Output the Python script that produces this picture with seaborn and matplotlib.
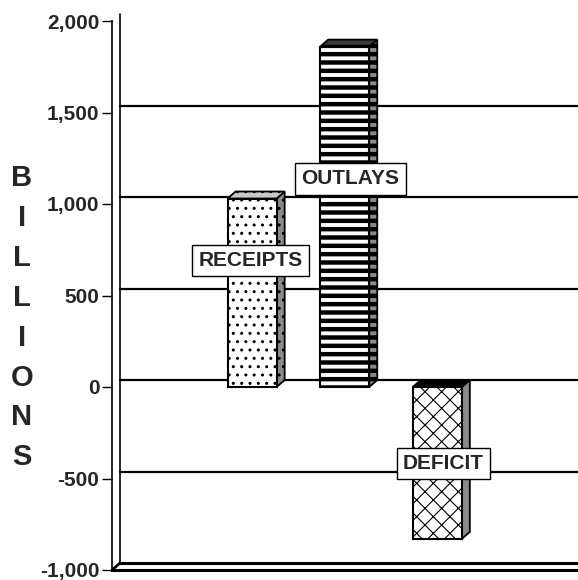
import matplotlib
matplotlib.use("Agg")
import matplotlib.pyplot as plt
import matplotlib.transforms as mtransforms
from matplotlib.patches import Polygon
from matplotlib.ticker import FuncFormatter
import seaborn as sns

# ---- data ----
categories = ["RECEIPTS", "OUTLAYS", "DEFICIT"]
values = [1030, 1860, -830]
label_values = [691, 1137, -418]          # vertical placement of the label boxes
label_shift = [-0.02, 0.06, 0.065]        # horizontal nudge of the label boxes
yticks = [-1000, -500, 0, 500, 1000, 1500, 2000]
ylabel_text = "BILLIONS"

# ---- style ----
sns.set_style("white")
plt.rcParams['font.family'] = ['Liberation Sans', 'DejaVu Sans']
plt.rcParams['font.weight'] = 'bold'

DPI = 100
W, H = 578, 580
fig = plt.figure(figsize=(W / DPI, H / DPI), dpi=DPI)
left_px, top_px, bottom_px = 112, 21, 570
ax = fig.add_axes([left_px / W, (H - bottom_px) / H, 1 - left_px / W,
                   (bottom_px - top_px) / H])

sns.barplot(x=categories, y=values, order=categories, width=0.53,
            color="white", edgecolor="black", linewidth=1.5, ax=ax,
            zorder=3)

ax.set_xlim(-1.514, 3.52)
ax.set_ylim(-1000, 2000)
ax.set_yticks(yticks)
ax.yaxis.set_major_formatter(FuncFormatter(lambda v, p: f"{int(v):,}"))
ax.tick_params(axis='y', which='both', left=True, length=7, width=1,
               pad=2, labelsize=15, color='black')
for lab in ax.get_yticklabels():
    lab.set_fontweight('bold')
ax.set_xticks([])
ax.set_xlabel("")
ax.set_ylabel("")
for s in ['top', 'right']:
    ax.spines[s].set_visible(False)
ax.spines['left'].set_linewidth(1.2)
ax.spines['left'].set_color('black')
ax.spines['bottom'].set_linewidth(2.2)
ax.spines['bottom'].set_color('black')
ax.patch.set_alpha(0)

# depth offsets (pixels)
dx, dy = 8, 7
back = ax.get_yaxis_transform() + mtransforms.ScaledTranslation(dx / DPI, dy / DPI, fig.dpi_scale_trans)

# back wall gridlines (no line along the top edge)
for v in yticks[1:-1]:
    ax.plot([0, 1.05], [v, v], transform=back, color='black', lw=1.6,
            clip_on=False, zorder=1)
# floor back line
ax.plot([0, 1.05], [-1000, -1000], transform=back, color='black', lw=2.2,
        clip_on=False, zorder=1)
# back wall vertical line
ax.plot([0, 0], [-1000, 2000], transform=back, color='black', lw=1.2,
        clip_on=False, zorder=1)

ident = mtransforms.IdentityTransform()
for v in (-1000, 2000):
    p = ax.get_yaxis_transform().transform((0, v))
    ax.add_artist(plt.Line2D([p[0], p[0] + dx], [p[1], p[1] + dy], transform=ident,
                             color='black', lw=1.4 if v > 0 else 2.0, zorder=2))

# bar styling
face_hatch = ['..', '--', 'xx']
top_colors = ['#c8c8c8', '#3a3a3a', '#000000']
side_colors = ['#8a8a8a', '#8a8a8a', '#8a8a8a']
side_hatch = ['..', '--', None]

def set_hlw(artist, lw):
    if hasattr(artist, 'set_hatch_linewidth'):
        artist.set_hatch_linewidth(lw)

bars = list(ax.patches)
for i, bar in enumerate(bars):
    x0 = bar.get_x()
    w = bar.get_width()
    y0 = bar.get_y()
    h = bar.get_height()
    ylo, yhi = min(y0, y0 + h), max(y0, y0 + h)
    bar.set_facecolor('white')
    bar.set_hatch(face_hatch[i])
    set_hlw(bar, [1.0, 3.2, 0.8][i])
    bar.set_edgecolor('black')
    bar.set_linewidth(1.5)
    bar.set_zorder(3)

    (px0, pylo) = ax.transData.transform((x0, ylo))
    (px1, pyhi) = ax.transData.transform((x0 + w, yhi))
    side = Polygon([(px1, pylo), (px1 + dx, pylo + dy), (px1 + dx, pyhi + dy), (px1, pyhi)],
                   closed=True, transform=ident, facecolor=side_colors[i],
                   edgecolor='black', lw=1.3, zorder=2.9)
    if side_hatch[i]:
        side.set_hatch(side_hatch[i])
        set_hlw(side, 3.2 if i == 1 else 1.0)
    ax.add_artist(side)
    top = Polygon([(px0, pyhi), (px1, pyhi), (px1 + dx, pyhi + dy), (px0 + dx, pyhi + dy)],
                  closed=True, transform=ident, facecolor=top_colors[i],
                  edgecolor='black', lw=1.3, zorder=2.9)
    if i == 0:
        top.set_hatch('..')
    if i == 1:
        top.set_hatch('--')
        set_hlw(top, 1.5)
    ax.add_artist(top)

# labels
for i, (cat, lv) in enumerate(zip(categories, label_values)):
    ax.text(i + label_shift[i], lv, cat, ha='center', va='center', fontsize=15,
            fontweight='bold', zorder=5,
            bbox=dict(boxstyle='square,pad=0.3', facecolor='white',
                      edgecolor='black', linewidth=1.0))

# vertical stacked axis title
start_y, step = 178, 39.9
for k, ch in enumerate(ylabel_text):
    fig.text(22 / W, 1 - (start_y + k * step) / H, ch, ha='center', va='center',
             fontsize=21, fontweight='bold')

fig.savefig("out.png", dpi=DPI)
